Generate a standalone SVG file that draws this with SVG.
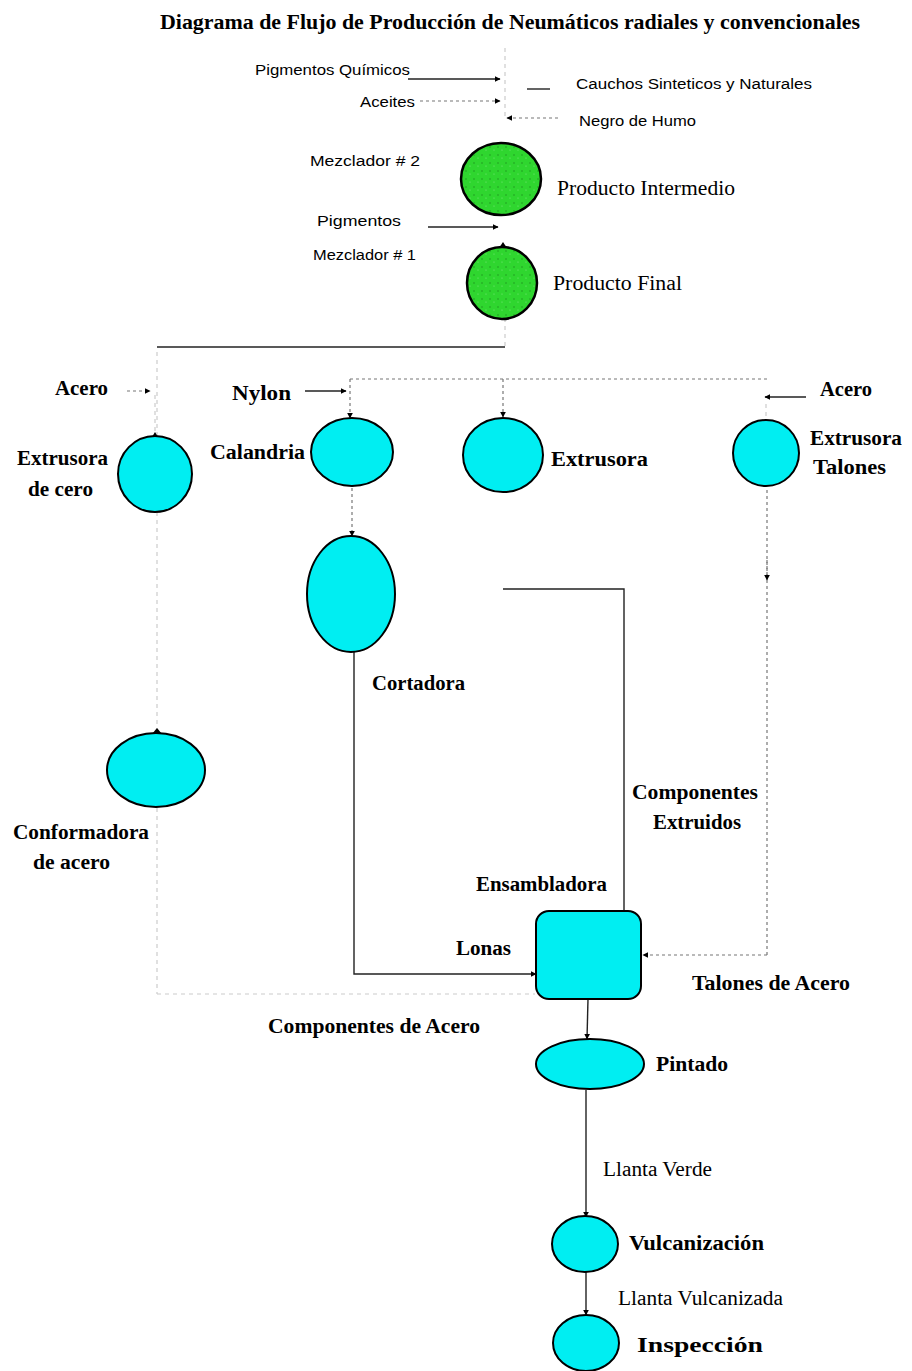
<svg xmlns="http://www.w3.org/2000/svg" width="912" height="1371" viewBox="0 0 912 1371">
<style>
.bg{fill:#fff}
.t{font-family:"Liberation Serif","Times New Roman",serif;font-weight:bold;font-size:20px;fill:#000}
.r{font-family:"Liberation Serif","Times New Roman",serif;font-size:20px;fill:#000}
.s{font-family:"Liberation Sans",Arial,sans-serif;font-size:14px;fill:#000}
.cy{fill:#00eef2;stroke:#000;stroke-width:2}
.gr{fill:#2fd62f;stroke:#000;stroke-width:2.5}
.ln{fill:none;stroke:#222;stroke-width:1.4}
.dl{fill:none;stroke:#777;stroke-width:1.2;stroke-dasharray:3 3}
.fl{fill:none;stroke:#ccc;stroke-width:1.2;stroke-dasharray:4 4}
</style>
<defs>
<marker id="ah" viewBox="0 0 10 10" refX="9" refY="5" markerWidth="6" markerHeight="6" orient="auto" markerUnits="userSpaceOnUse">
<path d="M0,0 L10,5 L0,10 z" fill="#000"/>
</marker>
<pattern id="spk" width="8" height="8" patternUnits="userSpaceOnUse">
<rect width="8" height="8" fill="#2fd62f"/>
<circle cx="2" cy="3" r="0.7" fill="#1a8f1a"/>
<circle cx="6" cy="6" r="0.6" fill="#7bea7b"/>
</pattern>
</defs>
<rect class="bg" width="912" height="1371"/>
<text class="t" x="160" y="29" textLength="700" lengthAdjust="spacingAndGlyphs">Diagrama de Flujo de Producción de Neumáticos radiales y convencionales</text>

<g id="connectors">
<line class="fl" x1="505" y1="48" x2="505" y2="120"/>
<line class="ln" x1="408" y1="79" x2="500" y2="79" marker-end="url(#ah)"/>
<line class="ln" x1="527" y1="89" x2="550" y2="89"/>
<line class="dl" x1="420" y1="101" x2="500" y2="101" marker-end="url(#ah)"/>
<line class="dl" x1="558" y1="118" x2="507" y2="118" marker-end="url(#ah)"/>
<line class="ln" x1="428" y1="227" x2="498" y2="227" marker-end="url(#ah)"/>
<line class="fl" x1="505" y1="318" x2="505" y2="347"/>
<line class="ln" x1="157" y1="347" x2="505" y2="347"/>
<line class="fl" x1="157" y1="352" x2="157" y2="994"/>
<line class="fl" x1="157" y1="994" x2="535" y2="994"/>
<line class="dl" x1="127" y1="391" x2="150" y2="391" marker-end="url(#ah)"/>
<line class="fl" x1="155" y1="395" x2="155" y2="436"/>
<line class="ln" x1="305" y1="391" x2="346" y2="391" marker-end="url(#ah)"/>
<line class="dl" x1="350" y1="379" x2="770" y2="379"/>
<line class="dl" x1="350" y1="379" x2="350" y2="418" marker-end="url(#ah)"/>
<line class="dl" x1="503" y1="379" x2="503" y2="417" marker-end="url(#ah)"/>
<line class="ln" x1="806" y1="397" x2="765" y2="397" marker-end="url(#ah)"/>
<line class="fl" x1="766" y1="404" x2="766" y2="420"/>
<line class="dl" x1="352" y1="488" x2="352" y2="536" marker-end="url(#ah)"/>
<polyline class="dl" points="767,490 767,955"/>
<line class="dl" x1="767" y1="560" x2="767" y2="580" marker-end="url(#ah)"/>
<line class="dl" x1="767" y1="955" x2="643" y2="955" marker-end="url(#ah)"/>
<polyline class="ln" points="354,652 354,974 536,974" marker-end="url(#ah)"/>
<polyline class="ln" points="503,589 624,589 624,912"/>
<line class="ln" x1="588" y1="999" x2="587" y2="1039" marker-end="url(#ah)"/>
<line class="ln" x1="586" y1="1090" x2="586" y2="1217" marker-end="url(#ah)"/>
<line class="ln" x1="586" y1="1272" x2="586" y2="1315" marker-end="url(#ah)"/>
</g>

<g id="labels-inputs">
<text class="s" x="255" y="75" textLength="155" lengthAdjust="spacingAndGlyphs">Pigmentos Químicos</text>
<text class="s" x="576" y="89" textLength="236" lengthAdjust="spacingAndGlyphs">Cauchos Sinteticos y Naturales</text>
<text class="s" x="360" y="107" textLength="55" lengthAdjust="spacingAndGlyphs">Aceites</text>
<text class="s" x="579" y="126" textLength="117" lengthAdjust="spacingAndGlyphs">Negro de Humo</text>
<text class="s" x="317" y="226" textLength="84" lengthAdjust="spacingAndGlyphs">Pigmentos</text>
<text class="t" x="55" y="395" textLength="53" lengthAdjust="spacingAndGlyphs">Acero</text>
<text class="t" x="232" y="400" textLength="59" lengthAdjust="spacingAndGlyphs">Nylon</text>
<text class="t" x="820" y="396" textLength="52" lengthAdjust="spacingAndGlyphs">Acero</text>
<text class="t" x="632" y="799" textLength="126" lengthAdjust="spacingAndGlyphs">Componentes</text>
<text class="t" x="653" y="829" textLength="88" lengthAdjust="spacingAndGlyphs">Extruidos</text>
<text class="t" x="456" y="955" textLength="55" lengthAdjust="spacingAndGlyphs">Lonas</text>
<text class="t" x="692" y="990" textLength="158" lengthAdjust="spacingAndGlyphs">Talones de Acero</text>
<text class="t" x="268" y="1033" textLength="212" lengthAdjust="spacingAndGlyphs">Componentes de Acero</text>
<text class="r" x="603" y="1176" textLength="109" lengthAdjust="spacingAndGlyphs">Llanta Verde</text>
<text class="r" x="618" y="1305" textLength="165" lengthAdjust="spacingAndGlyphs">Llanta Vulcanizada</text>
</g>

<g id="mezclador2">
<ellipse cx="501" cy="179" rx="40" ry="36" fill="url(#spk)" stroke="#000" stroke-width="2.5"/>
<text class="s" x="310" y="166" textLength="110" lengthAdjust="spacingAndGlyphs">Mezclador # 2</text>
<text class="r" x="557" y="195" textLength="178" lengthAdjust="spacingAndGlyphs">Producto Intermedio</text>
</g>
<g id="mezclador1">
<ellipse cx="502" cy="283" rx="35" ry="36" fill="url(#spk)" stroke="#000" stroke-width="2.5"/>
<path d="M499,248 L503,242 L507,248 z" fill="#000"/>
<text class="s" x="313" y="260" textLength="103" lengthAdjust="spacingAndGlyphs">Mezclador # 1</text>
<text class="r" x="553" y="290" textLength="129" lengthAdjust="spacingAndGlyphs">Producto Final</text>
</g>

<g id="extrusora-cero">
<ellipse class="cy" cx="155" cy="474" rx="37" ry="38"/>
<path d="M152,437 L155,432 L158,437 z" fill="#000"/>
<text class="t" x="17" y="465" textLength="91" lengthAdjust="spacingAndGlyphs">Extrusora</text>
<text class="t" x="28" y="496" textLength="65" lengthAdjust="spacingAndGlyphs">de cero</text>
</g>
<g id="calandria">
<ellipse class="cy" cx="352" cy="452" rx="41" ry="34"/>
<text class="t" x="210" y="459" textLength="95" lengthAdjust="spacingAndGlyphs">Calandria</text>
</g>
<g id="extrusora">
<ellipse class="cy" cx="503" cy="455" rx="40" ry="37"/>
<text class="t" x="551" y="466" textLength="97" lengthAdjust="spacingAndGlyphs">Extrusora</text>
</g>
<g id="extrusora-talones">
<ellipse class="cy" cx="766" cy="453" rx="33" ry="33"/>
<text class="t" x="810" y="445" textLength="92" lengthAdjust="spacingAndGlyphs">Extrusora</text>
<text class="t" x="813" y="474" textLength="73" lengthAdjust="spacingAndGlyphs">Talones</text>
</g>
<g id="cortadora">
<ellipse class="cy" cx="351" cy="594" rx="44" ry="58"/>
<text class="t" x="372" y="690" textLength="93" lengthAdjust="spacingAndGlyphs">Cortadora</text>
</g>
<g id="conformadora">
<ellipse class="cy" cx="156" cy="770" rx="49" ry="37"/>
<path d="M152,734 L157,728 L162,734 z" fill="#000"/>
<text class="t" x="13" y="839" textLength="136" lengthAdjust="spacingAndGlyphs">Conformadora</text>
<text class="t" x="33" y="869" textLength="77" lengthAdjust="spacingAndGlyphs">de acero</text>
</g>
<g id="ensambladora">
<rect class="cy" x="536" y="911" width="105" height="88" rx="13" ry="13"/>
<text class="t" x="476" y="891" textLength="131" lengthAdjust="spacingAndGlyphs">Ensambladora</text>
</g>
<g id="pintado">
<ellipse class="cy" cx="590" cy="1064" rx="54" ry="25"/>
<text class="t" x="656" y="1071" textLength="72" lengthAdjust="spacingAndGlyphs">Pintado</text>
</g>
<g id="vulcanizacion">
<ellipse class="cy" cx="585" cy="1244" rx="33" ry="28"/>
<text class="t" x="629" y="1250" textLength="135" lengthAdjust="spacingAndGlyphs">Vulcanización</text>
</g>
<g id="inspeccion">
<ellipse class="cy" cx="586" cy="1343" rx="33" ry="28"/>
<text class="t" x="637" y="1352" textLength="126" lengthAdjust="spacingAndGlyphs">Inspección</text>
</g>
</svg>
